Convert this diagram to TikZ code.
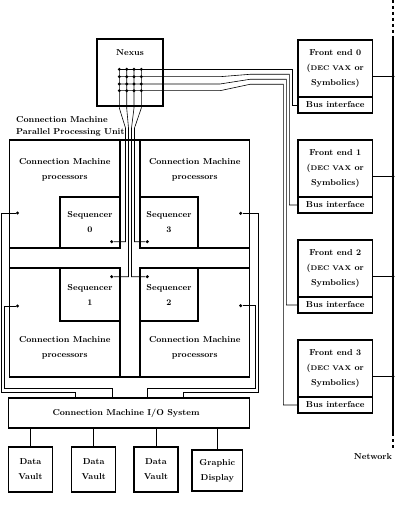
\documentclass[tikz,border=0pt]{standalone}
\newcommand{\txt}{\fontsize{8.6}{15}\selectfont\bfseries}
\newcommand{\decvax}{{\fontsize{6.8}{15}\selectfont DEC VAX}}
\tikzset{
  box/.style={draw, line width=1.3pt, inner sep=0pt, align=center, font=\txt},
  lbl/.style={inner sep=0pt, align=center, font=\txt},
  wire/.style={line width=0.6pt},
  dot/.style={circle, fill, inner sep=0pt, minimum size=3.4pt},
}
\begin{document}
\begin{tikzpicture}[x=1pt,y=-1pt]
\useasboundingbox (0,0) rectangle (400,513);
% Nexus
\node[box, minimum width=66pt, minimum height=67pt] (nexus) at (130,72.5) {};
\node[lbl] (nexuslbl) at (130,53) {Nexus};
% PPU
\node[lbl, align=left, anchor=west, font=\fontsize{8.6}{12}\selectfont\bfseries] (ppulbl) at (16,126.7) {Connection Machine\\Parallel Processing Unit};
\node[box, minimum width=240pt, minimum height=237pt] (ppu) at (129.5,258.5) {};
\node[box, minimum width=110.5pt, minimum height=108pt] (qtl) at (64.75,194) {};
\node[box, minimum width=109.5pt, minimum height=108pt] (qtr) at (194.75,194) {};
\node[box, minimum width=110.5pt, minimum height=109pt] (qbl) at (64.75,322.5) {};
\node[box, minimum width=109.5pt, minimum height=109pt] (qbr) at (194.75,322.5) {};
\node[lbl] (ttl) at (64.75,169.5) {Connection Machine\\processors};
\node[lbl] (ttr) at (194.75,169.5) {Connection Machine\\processors};
\node[lbl] (tbl) at (64.75,348.2) {Connection Machine\\processors};
\node[lbl] (tbr) at (194.75,348.2) {Connection Machine\\processors};
\node[box, minimum width=60pt, minimum height=51pt] (s0) at (90,222.5) {Sequencer\\0};
\node[box, minimum width=58pt, minimum height=51pt] (s3) at (169,222.5) {Sequencer\\3};
\node[box, minimum width=60pt, minimum height=53pt] (s1) at (90,294.5) {Sequencer\\1};
\node[box, minimum width=58pt, minimum height=53pt] (s2) at (169,294.5) {Sequencer\\2};
% sequencer dots
\node[dot] (ds0) at (111.7,241.7) {};
\node[dot] (ds3) at (147.3,241.7) {};
\node[dot] (ds1) at (111.7,276.7) {};
\node[dot] (ds2) at (147.3,276.7) {};
% quadrant dots
\node[dot] (dtl) at (17.5,213) {};
\node[dot] (dbl) at (17.5,306) {};
\node[dot] (dtr) at (240.7,213.3) {};
\node[dot] (dbr) at (240.7,305.7) {};
% I/O
\node[box, minimum width=241pt, minimum height=30pt] (io) at (129,413) {};
\node[lbl] (iolbl) at (126,413) {Connection Machine I/O System};
\coordinate (io1) at (75,398);
\coordinate (io2) at (112,398);
\coordinate (io3) at (147,398);
\coordinate (io4) at (183,398);
\node[box, minimum width=44.2pt, minimum height=45pt] (dv1) at (30.4,469.5) {Data\\Vault};
\node[box, minimum width=43.8pt, minimum height=45pt] (dv2) at (93.7,469.5) {Data\\Vault};
\node[box, minimum width=44pt, minimum height=45pt] (dv3) at (156,469.5) {Data\\Vault};
\node[box, minimum width=50.6pt, minimum height=41pt] (gd) at (217.3,470.5) {Graphic\\Display};
\foreach \n in {dv1,dv2,dv3,gd}{\draw[wire] (\n.north) -- (\n.north |- io.south);}
% Front ends
\foreach \i/\t in {0/40,1/140,2/240,3/340}{
  \node[box, minimum width=74.5pt, minimum height=57pt] (fe\i) at (335.25,\t+28.5) {Front end \i\\(\decvax\ or\\Symbolics)};
  \node[box, minimum width=74.5pt, minimum height=16pt] (bus\i) at (335.25,\t+65) {Bus interface};
  \coordinate (j\i) at (393,\t+36.5);
  \draw[wire] (fe\i.east |- j\i) -- (j\i);
  \node[dot] at (j\i) {};
}
% Network
\coordinate (ntop) at (393,0);
\coordinate (n1) at (393,37);
\coordinate (n2) at (393,433);
\coordinate (nbot) at (393,450);
\draw[line width=1.3pt] (n1) -- (n2);
\draw[line width=1.3pt, dash pattern=on 3pt off 3pt] (ntop) -- (n1);
\draw[line width=1.3pt, dash pattern=on 3pt off 3pt] (n2) -- (nbot);
\node[lbl] (netlbl) at (373,457) {Network};
% Nexus grid
\foreach \c/\x in {1/119.3,2/126.7,3/134,4/141.3}{
  \foreach \r/\y in {1/69.3,2/76.7,3/84,4/90.7}{
    \node[dot, minimum size=3.2pt] (g\r\c) at (\x,\y) {};
  }
}
% vertical bundle
\draw[wire] (g11.center) -- (119.3,108) -- (125.5,128) |- (ds0);
\draw[wire] (g12.center) -- (126.7,108) -- (128.5,128) |- (ds1);
\draw[wire] (g13.center) -- (134,108) -- (131.5,128) |- (ds2);
\draw[wire] (g14.center) -- (141.3,108) -- (134.5,128) |- (ds3);
% horizontal bundle
\draw[wire] (g11.center) -- (292.3,69.3) |- (bus0.west);
\draw[wire] (g21.center) -- (220,76.7) -- (250,74.3) -- (289.3,74.3) |- (bus1.west);
\draw[wire] (g31.center) -- (220,84) -- (250,79.3) -- (286.3,79.3) |- (bus2.west);
\draw[wire] (g41.center) -- (220,90.7) -- (250,84.3) -- (283.3,84.3) |- (bus3.west);
% quadrant wires to I/O
\draw[wire] (dtl) -| (1.5,392) -| (io1);
\draw[wire] (dbl) -| (4,388.5) -| (io2);
\draw[wire] (dbr) -| (255,388.5) -| (io3);
\draw[wire] (dtr) -| (258,392) -| (io4);
\end{tikzpicture}
\end{document}
